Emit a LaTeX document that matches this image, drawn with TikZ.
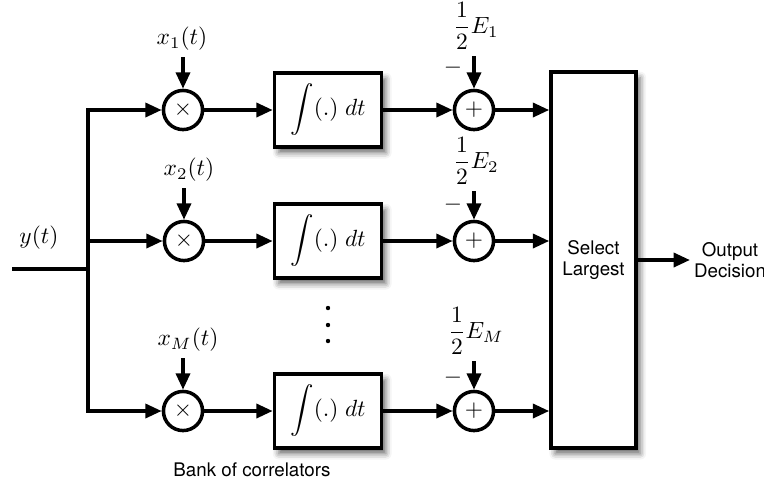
\documentclass[tikz,border=0pt]{standalone}
\usepackage{fontspec}
\setsansfont{TeX Gyre Heros}
\usetikzlibrary{arrows.meta,shadows.blur}
\tikzset{every picture/.style = {x=0.015cm, y=-0.015cm, line width=1.5pt}}
\tikzset{arr/.style = {-{Triangle[length=7pt, width=6pt]}}}
\tikzset{mix/.style = {draw, shape=circle, inner sep=0, minimum size=16.7pt}}
\tikzset{blk/.style = {draw, fill=white, inner sep=0,
  blur shadow={shadow xshift=1.8pt, shadow yshift=-2.4pt,
    shadow blur radius=2.5pt, shadow opacity=60}}}
\tikzset{intg/.style = {blk, minimum width=45.7pt, minimum height=31.6pt}}
\tikzset{sig/.style = {anchor=south, inner sep=2pt}}
\tikzset{txt/.style = {font=\sffamily\fontsize{8}{9}\selectfont, align=center}}

\begin{document}
\begin{tikzpicture}
  \useasboundingbox (0, 0) rectangle (764, 482);
  % input and bus
  \coordinate (in) at (12, 269);
  \coordinate (jn) at (88, 269);
  \coordinate (b1) at (88, 110);
  \coordinate (b2) at (88, 241);
  \coordinate (b3) at (88, 411);
  \node (yl) at (39, 238) {$y(t)$};
  \draw (in) -- (jn);
  \draw[line cap=rect] (b1) -- (b3);
  % multipliers
  \node[mix] (m1) at (183, 110) {$\times$};
  \node[mix] (m2) at (184, 241) {$\times$};
  \node[mix] (m3) at (183, 411) {$\times$};
  \node[sig] (xl1) at (182, 57) {$x_1(t)$};
  \node[sig] (xl2) at (189, 188) {$x_2(t)$};
  \node[sig] (xl3) at (188, 358) {$x_M(t)$};
  % integrators
  \node[intg] (int1) at (328, 110) {$\displaystyle\int (.)\; dt$};
  \node[intg] (int2) at (328, 241) {$\displaystyle\int (.)\; dt$};
  \node[intg] (int3) at (328, 411) {$\displaystyle\int (.)\; dt$};
  % adders
  \node[mix] (s1) at (474, 110) {$+$};
  \node[mix] (s2) at (474, 241) {$+$};
  \node[mix] (s3) at (474, 411) {$+$};
  \node[sig] (el1) at (476, 56) {$\displaystyle\frac{1}{2}E_1$};
  \node[sig] (el2) at (476, 191) {$\displaystyle\frac{1}{2}E_2$};
  \node[sig] (el3) at (476, 361) {$\displaystyle\frac{1}{2}E_M$};
  \node[inner sep=0] (mi1) at (453, 68) {$-$};
  \node[inner sep=0] (mi2) at (453, 205) {$-$};
  \node[inner sep=0] (mi3) at (453, 378) {$-$};
  % decision
  \node[blk, txt, minimum width=36.3pt, minimum height=160.5pt] (sel)
    at (593.5, 260) {Select\\Largest};
  \node[txt, inner sep=1pt] (out) at (730, 260) {Output\\Decision};
  \node[txt] (bank) at (252, 470) {Bank of correlators};
  % connectors
  \draw[arr] (b1) -- (m1);
  \draw[arr] (b2) -- (m2);
  \draw[arr] (b3) -- (m3);
  \draw[arr] (xl1.south -| m1) -- (m1);
  \draw[arr] (xl2.south -| m2) -- (m2);
  \draw[arr] (xl3.south -| m3) -- (m3);
  \draw[arr] (m1) -- (int1);
  \draw[arr] (m2) -- (int2);
  \draw[arr] (m3) -- (int3);
  \draw[arr] (int1) -- (s1);
  \draw[arr] (int2) -- (s2);
  \draw[arr] (int3) -- (s3);
  \draw[arr] (el1.south -| s1) -- (s1);
  \draw[arr] (el2.south -| s2) -- (s2);
  \draw[arr] (el3.south -| s3) -- (s3);
  \draw[arr] (s1) -- (s1 -| sel.west);
  \draw[arr] (s2) -- (s2 -| sel.west);
  \draw[arr] (s3) -- (s3 -| sel.west);
  \draw[arr] (sel) -- (out);
  % dots
  \fill (328, 308) circle (2.2);
  \fill (328, 325) circle (2.2);
  \fill (328, 341) circle (2.2);
\end{tikzpicture}
\end{document}
